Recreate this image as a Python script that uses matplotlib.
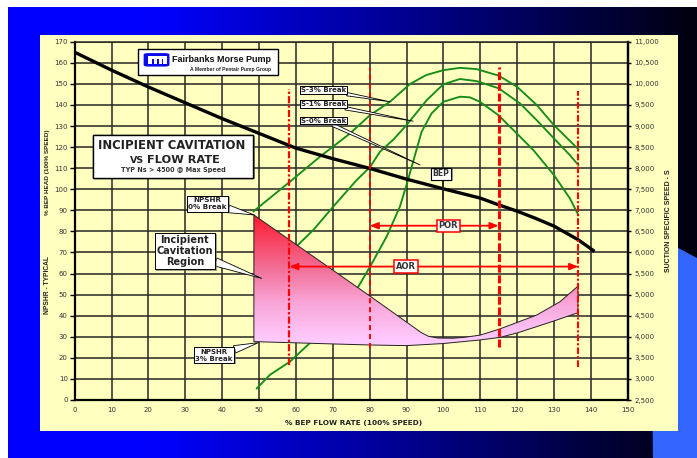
import numpy as np
import matplotlib
matplotlib.use("Agg")
import matplotlib.pyplot as plt
from matplotlib.patches import Rectangle, Polygon, FancyBboxPatch
import matplotlib.patheffects as pe

# ---------------- data ----------------
flow_ticks = list(range(0, 151, 10))
head_ticks = list(range(0, 171, 10))
s_ticks = list(range(2500, 11001, 500))

# % BEP head curve
head_x = [0, 10, 20, 30, 40, 50, 60, 70, 80, 90, 100, 110, 115, 120, 125, 130, 136.6, 141]
head_y = [165, 156.5, 148.5, 141, 133.5, 126.5, 119.5, 114.5, 109.9, 104.8, 100.2, 95.8, 92.6, 89.6, 86.2, 82.5, 76, 70.5]

# suction specific speed curves (S units, right axis)
s3_x = [48.5, 58.4, 66.5, 74.7, 80, 85.5, 91, 95.4, 100, 104.5, 109, 115, 120, 125.3, 130, 136.6]
s3_s = [6975, 7680, 8270, 8825, 9250, 9575, 10000, 10210, 10325, 10380, 10350, 10195, 9930, 9500, 9020, 8450]

s1_x = [60.5, 64.7, 70.1, 76.5, 80.1, 82.8, 86.4, 90, 95.5, 100, 104.5, 109, 115, 120.8, 125.3, 130, 134.3, 136.6]
s1_s = [6175, 6530, 7085, 7720, 8025, 8390, 8675, 9020, 9615, 9990, 10115, 10065, 9895, 9535, 9140, 8705, 8310, 8075]

s0_x = [49.4, 53, 58.4, 64.7, 76.9, 80.1, 84.6, 88.2, 90, 92.3, 94.1, 96.8, 100, 104.5, 107.2, 109.9,
        114.9, 119.9, 124.4, 130, 134.3, 136.6]
s0_s = [2775, 3100, 3410, 3925, 5185, 5660, 6375, 7085, 7600, 8310, 8865, 9300, 9575, 9695, 9680, 9575,
        9260, 8825, 8430, 7835, 7285, 6890]

# NPSHR curves (left axis)
npshr0_x = [48.6, 80.1, 94.0, 96.0, 98.5, 102.5, 106.0, 110.0, 115.3, 120.0, 125.3, 131.6, 136.5]
npshr0_y = [87.8, 49.3, 32.0, 30.2, 29.4, 29.3, 29.8, 30.8, 33.7, 36.8, 40.3, 46.6, 54.0]
npshr3_x = [48.6, 58.4, 70.0, 80.1, 90.0, 100.0, 110.0, 115.3, 120.0, 125.3, 130.0, 136.5]
npshr3_y = [27.7, 27.2, 26.6, 26.1, 25.8, 26.8, 28.5, 29.7, 31.8, 34.8, 37.5, 41.4]

# operating limits (vertical red lines)
limit_x = [58.2, 80.0, 115.0, 136.6]
limit_lo = [16.5, 24.5, 25.3, 15.8]
limit_hi = [147.5, 157.3, 158.1, 146.7]

# ranges
por_range = (80.0, 115.0)
por_level = 82.7
aor_range = (58.2, 136.6)
aor_level = 63.3
bep_flow = 100.0


def head_to_s(y):
    return 2500 + 50 * np.asarray(y, dtype=float)


def s_to_head(s):
    return (np.asarray(s, dtype=float) - 2500) / 50


W, H = 697, 458
fig = plt.figure(figsize=(W / 100, H / 100), dpi=100)
fig.patch.set_facecolor('white')

# ---------------- slide background ----------------
bg = fig.add_axes([0, 0, 1, 1])
cols = np.arange(8, W)
blue = np.where(cols < 150, 255, 255 - (cols - 150) * (240 / (W - 150)))
grad = np.zeros((2, len(cols), 3))
grad[..., 2] = blue / 255
bg.imshow(grad, extent=(8, W, H, 7), aspect='auto', interpolation='bilinear', zorder=0)
bg.add_patch(Polygon([(650, 233), (W, 258), (W, H), (653, H)], closed=True,
                     fc='#3366ff', ec='none', zorder=1))
bg.add_patch(Rectangle((40, 35), 638, 396, fc='#ffffc0', ec='none', zorder=2))
bg.set_xlim(0, W)
bg.set_ylim(H, 0)
bg.axis('off')

# ---------------- main axes ----------------
ax = fig.add_axes([74.7 / W, (H - 400) / H, 553 / W, 358.3 / H])
ax.set_facecolor('none')

ax.set_xticks(flow_ticks)
ax.set_yticks(head_ticks)
ax.set_axisbelow(True)
ax.grid(True, color='#262626', lw=1.1)
ax.tick_params(axis='y', direction='out', length=3.5, width=1.0, pad=1.5,
               labelsize=5, labelcolor='#333333')
ax.tick_params(axis='x', length=0, pad=5.0, labelsize=5, labelcolor='#333333')
for side in ['left', 'bottom', 'right']:
    ax.spines[side].set_linewidth(1.6)
ax.spines['top'].set_linewidth(1.1)
ax.spines['top'].set_color('#262626')

sec = ax.secondary_yaxis('right', functions=(head_to_s, s_to_head))
sec.set_yticks(s_ticks)
sec.set_yticklabels([f'{v:,}' for v in s_ticks])
sec.tick_params(direction='out', length=2.2, width=1.0, pad=2.5, labelsize=5, labelcolor='#333333')
sec.spines['right'].set_linewidth(1.6)

# head curve
ax.plot(head_x, head_y, color='black', lw=2.4, solid_capstyle='butt', solid_joinstyle='round', zorder=4)

# S curves
green = '#168c16'
for xs, ss in [(s3_x, s3_s), (s1_x, s1_s), (s0_x, s0_s)]:
    ax.plot(xs, s_to_head(ss), color=green, lw=1.35, solid_joinstyle='round', zorder=3)

# incipient cavitation region (gradient fill)
poly_xy = list(zip(npshr0_x, npshr0_y)) + list(zip(npshr3_x[::-1], npshr3_y[::-1]))
poly = Polygon(poly_xy, closed=True, fc='none', ec='#222222', lw=0.7, zorder=3.6)
ax.add_patch(poly)
ys = np.linspace(88.5, 25, 256)
sy = [27, 45, 62, 88]
r = np.interp(ys, sy, [1.00, 0.98, 0.95, 1.00])
g = np.interp(ys, sy, [0.80, 0.66, 0.44, 0.10])
b = np.interp(ys, sy, [1.00, 0.86, 0.60, 0.18])
img = np.stack([r, g, b], axis=-1)[:, None, :]
im = ax.imshow(img, extent=(48, 137, 25, 88.5), aspect='auto', origin='upper',
               interpolation='bilinear', zorder=3.5)
im.set_clip_path(poly)

# vertical limit lines
line_specs = [(1.6, (3.2, 1.0, 1.0, 1.0)), (1.4, (2.6, 2.0)), (2.2, (2.6, 0.9)), (1.5, (3.2, 1.0, 1.0, 1.0))]
for x, lo, hi, (lw, dsh) in zip(limit_x, limit_lo, limit_hi, line_specs):
    ax.plot([x, x], [lo, hi], color='red', lw=lw, dashes=dsh, zorder=5)

# POR / AOR arrows
astyle = '<|-|>,head_length=0.55,head_width=0.22'
ax.annotate('', xy=(por_range[1], por_level), xytext=(por_range[0], por_level),
            arrowprops=dict(arrowstyle=astyle, color='red', lw=1.3, shrinkA=0, shrinkB=0,
                            mutation_scale=9), zorder=5)
ax.annotate('', xy=(aor_range[1], aor_level), xytext=(aor_range[0], aor_level),
            arrowprops=dict(arrowstyle=astyle, color='red', lw=1.3, shrinkA=0, shrinkB=0,
                            mutation_scale=9), zorder=5)
for label, xc, yc in [('POR', 101.3, 82.6), ('AOR', 89.9, 63.4)]:
    ax.text(xc, yc, label, ha='center', va='center', fontsize=6, fontweight='bold',
            family='DejaVu Sans', color='#333333', zorder=6,
            bbox=dict(boxstyle='square,pad=0.22', fc='white', ec='red', lw=1.1))

shadow = [pe.withSimplePatchShadow(offset=(1, -1), shadow_rgbFace='#666666', alpha=0.6), pe.Normal()]

# BEP marker
ax.plot([bep_flow, bep_flow], [95.3, 105.2], color='#222222', lw=1.2, zorder=6)
t = ax.text(99.4, 107.4, 'BEP', ha='center', va='center', fontsize=5.6, fontweight='bold',
            family='DejaVu Sans', color='#333333', zorder=7,
            bbox=dict(boxstyle='square,pad=0.2', fc='white', ec='black', lw=0.8))
t.get_bbox_patch().set_path_effects(shadow)


def callout(text, center, tip, fs, tw, ms, ls=1.15, pad=0.2):
    a = ax.annotate(text, xy=tip, xytext=center, xycoords='data', textcoords='data',
                    ha='center', va='center', fontsize=fs, fontweight='bold',
                    family='DejaVu Sans', color='#222222', linespacing=ls,
                    multialignment='center', zorder=7,
                    bbox=dict(boxstyle=f'square,pad={pad}', fc='white', ec='black', lw=0.7),
                    arrowprops=dict(arrowstyle=f'wedge,tail_width={tw},shrink_factor=0.5',
                                    fc='white', ec='black', lw=0.6, mutation_scale=ms,
                                    shrinkA=0, shrinkB=0, connectionstyle='arc3'))
    a.get_bbox_patch().set_path_effects(shadow)
    return a


callout('S-3% Break', (67.4, 147.1), (85.5, 141.5), 5.0, 0.3, 8, pad=0.12)
callout('S-1% Break', (67.4, 140.4), (91.8, 132.3), 5.0, 0.3, 8, pad=0.12)
callout('S-0% Break', (67.4, 132.6), (93.7, 111.5), 5.0, 0.3, 8, pad=0.12)
callout('NPSHR\n0% Break', (36.0, 93.0), (48.7, 87.8), 5.2, 0.55, 10, ls=1.2)
callout('Incipient\nCavitation\nRegion', (29.9, 70.7), (50.7, 57.7), 7.0, 0.6, 10, ls=1.15)
callout('NPSHR\n3% Break', (37.8, 21.3), (49.8, 27.2), 5.0, 0.55, 10, ls=1.2)

# title box
ttl = Rectangle((5.0, 105.5), 43.4, 20.2, fc='white', ec='black', lw=1.0, zorder=6)
ttl.set_path_effects(shadow)
ax.add_patch(ttl)
ax.text(26.4, 118.9, 'INCIPIENT CAVITATION', ha='center', va='baseline', fontsize=8.4,
        fontweight='bold', family='DejaVu Sans', color='#222222', zorder=7)
ax.text(18.9, 112.4, 'VS', ha='right', va='baseline', fontsize=6.8,
        fontweight='bold', family='DejaVu Sans', color='#222222', zorder=7)
ax.text(19.5, 112.4, 'FLOW RATE', ha='left', va='baseline', fontsize=8.2,
        fontweight='bold', family='DejaVu Sans', color='#222222', zorder=7)
ax.text(26.7, 108.3, 'TYP Ns > 4500 @ Max Speed', ha='center', va='baseline', fontsize=4.7,
        fontweight='bold', family='DejaVu Sans', color='#333333', zorder=7)

# logo box
logo = Rectangle((17.25, 154.2), 37.95, 12.2, fc='white', ec='black', lw=1.0, zorder=6)
ax.add_patch(logo)
ax.add_patch(FancyBboxPatch((18.7, 158.2), 7.0, 6.4, boxstyle='round,pad=0,rounding_size=1.3',
                            fc='#0a0af0', ec='none', mutation_aspect=0.6, zorder=7))
ax.add_patch(Rectangle((19.9, 159.2), 5.1, 4.0, fc='white', ec='none', zorder=7.1))
for sx in [21.0, 22.35, 23.6]:
    ax.add_patch(Rectangle((sx, 159.2), 0.45, 2.5, fc='#0a0af0', ec='none', zorder=7.2))
ax.text(26.5, 160.4, 'Fairbanks Morse Pump', ha='left', va='baseline', fontsize=6.5,
        fontweight='bold', family='Liberation Sans', color='#111111', zorder=7)
ax.text(53.4, 156.1, 'A Member of Pentair Pump Group', ha='right', va='baseline', fontsize=3.6,
        fontweight='bold', family='Liberation Sans', color='#222222', zorder=7)

ax.set_xlim(0, 150)
ax.set_ylim(0, 170)

# axis labels
fig.text(47.2 / W, 1 - 172 / H, '% BEP HEAD (100% SPEED)', rotation=90, ha='center', va='center',
         fontsize=4.6, fontweight='bold', family='Liberation Sans', color='#222222')
fig.text(47.5 / W, 1 - 285 / H, 'NPSHR - TYPICAL', rotation=90, ha='center', va='center',
         fontsize=4.8, fontweight='bold', family='Liberation Sans', color='#222222')
fig.text(353.5 / W, 1 - 423 / H, '% BEP FLOW RATE (100% SPEED)', ha='center', va='center',
         fontsize=5.3, fontweight='bold', family='DejaVu Sans', color='#222222')
fig.text(668 / W, 1 - 221 / H, 'SUCTION SPECIFIC SPEED - S', rotation=90, ha='center', va='center',
         fontsize=5.0, fontweight='bold', family='Liberation Sans', color='#222222')

fig.savefig('out.png', dpi=100)
